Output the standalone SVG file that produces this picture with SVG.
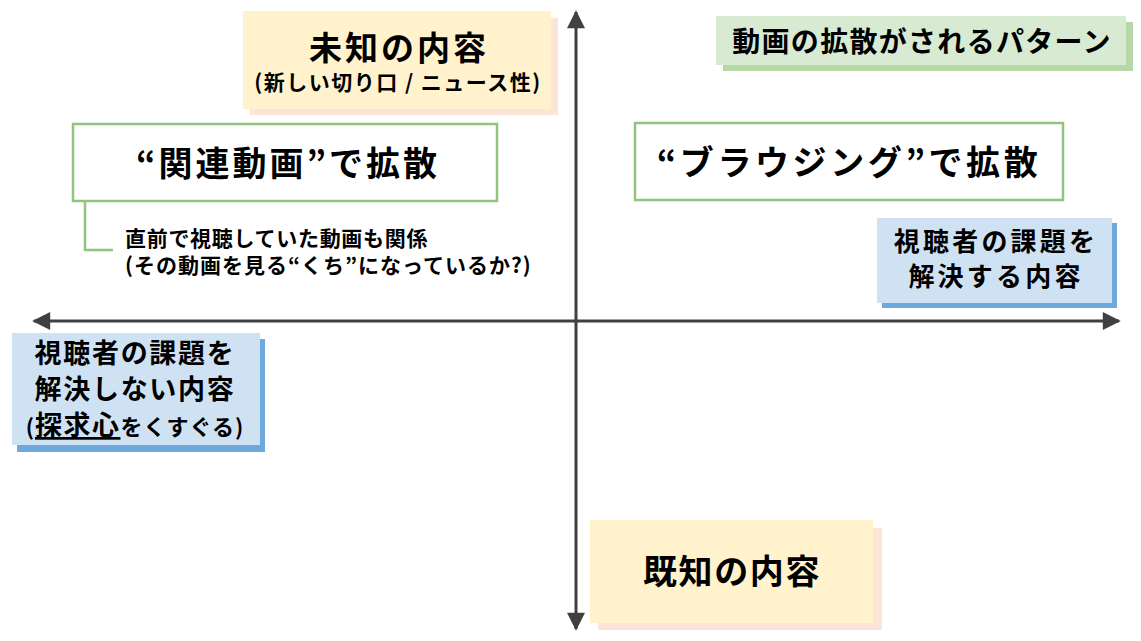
<svg xmlns="http://www.w3.org/2000/svg" width="1141" height="641" viewBox="0 0 1141 641">
<defs>
<style>
text{font-family:"Noto Sans CJK JP","Noto Sans",sans-serif;font-weight:bold;fill:#000;text-anchor:middle}
.yel{fill:#FFF2CC}.yelS{fill:#FCE4D6}
.blu{fill:#CFE2F3}.bluS{fill:#6FA8DC}
.grn{fill:#D9EAD3}.grnS{fill:#B6D7A8}
.gbox{fill:#fff;stroke:#93C47D;stroke-width:2.5}
.axis{stroke:#404040;stroke-width:3;fill:none}
</style>
<marker id="ah" viewBox="0 0 10 10" refX="9" refY="5" markerWidth="7" markerHeight="6" orient="auto" markerUnits="strokeWidth">
<path d="M0,0 L10,5 L0,10 z" fill="#404040"/>
</marker>
</defs>
<rect width="1141" height="641" fill="#fff"/>
<g id="connectors">
<line class="axis" x1="576" y1="320" x2="576" y2="12" marker-end="url(#ah)"/>
<line class="axis" x1="576" y1="320" x2="576" y2="629" marker-end="url(#ah)"/>
<line class="axis" x1="576" y1="321" x2="34" y2="321" marker-end="url(#ah)"/>
<line class="axis" x1="576" y1="321" x2="1119" y2="321" marker-end="url(#ah)"/>
<polyline points="85,201 85,250 113,250" fill="none" stroke="#93C47D" stroke-width="2.5"/>
</g>
<g id="unknown">
<rect class="yelS" x="250" y="18" width="308" height="97"/>
<rect class="yel" x="243" y="11" width="308" height="98"/>
<text x="399" y="60" font-size="33" letter-spacing="3">未知の内容</text>
<text x="398" y="90" font-size="21" letter-spacing="1.5">(新しい切り口 / ニュース性)</text>
</g>
<g id="legend">
<rect class="grnS" x="723" y="22" width="410" height="49"/>
<rect class="grn" x="716" y="16" width="410" height="49"/>
<text x="922" y="52" font-size="28" letter-spacing="1.3">動画の拡散がされるパターン</text>
</g>
<g id="related">
<rect class="gbox" x="73" y="124" width="424" height="77"/>
<text x="288" y="176" font-size="34" letter-spacing="3">“関連動画”で拡散</text>
</g>
<g id="browsing">
<rect class="gbox" x="635" y="123" width="428" height="77"/>
<text x="849" y="175" font-size="34" letter-spacing="3.6">“ブラウジング”で拡散</text>
</g>
<g id="note">
<text font-size="21" style="text-anchor:start"><tspan x="125" y="246" letter-spacing="0.7">直前で視聴していた動画も関係</tspan><tspan x="125" y="273" letter-spacing="1">(その動画を見る“くち”になっているか?)</tspan></text>
</g>
<g id="solve">
<rect class="bluS" x="882" y="223" width="235" height="85"/>
<rect class="blu" x="877" y="218" width="235" height="85"/>
<text font-size="26" letter-spacing="3.2"><tspan x="996" y="251">視聴者の課題を</tspan><tspan x="996" y="286">解決する内容</tspan></text>
</g>
<g id="notsolve">
<rect class="bluS" x="17" y="339" width="248" height="113"/>
<rect class="blu" x="12" y="333" width="248" height="112"/>
<text font-size="27" letter-spacing="1.7"><tspan x="135" y="363">視聴者の課題を</tspan><tspan x="135" y="399">解決しない内容</tspan><tspan x="135" y="435" font-size="22" letter-spacing="1">(<tspan font-size="27" letter-spacing="1.5" text-decoration="underline">探求心</tspan>をくすぐる)</tspan></text>
</g>
<g id="known">
<rect class="yelS" x="598" y="528" width="284" height="102"/>
<rect class="yel" x="590" y="520" width="283" height="103"/>
<text x="732" y="584" font-size="34" letter-spacing="1.6">既知の内容</text>
</g>
</svg>
